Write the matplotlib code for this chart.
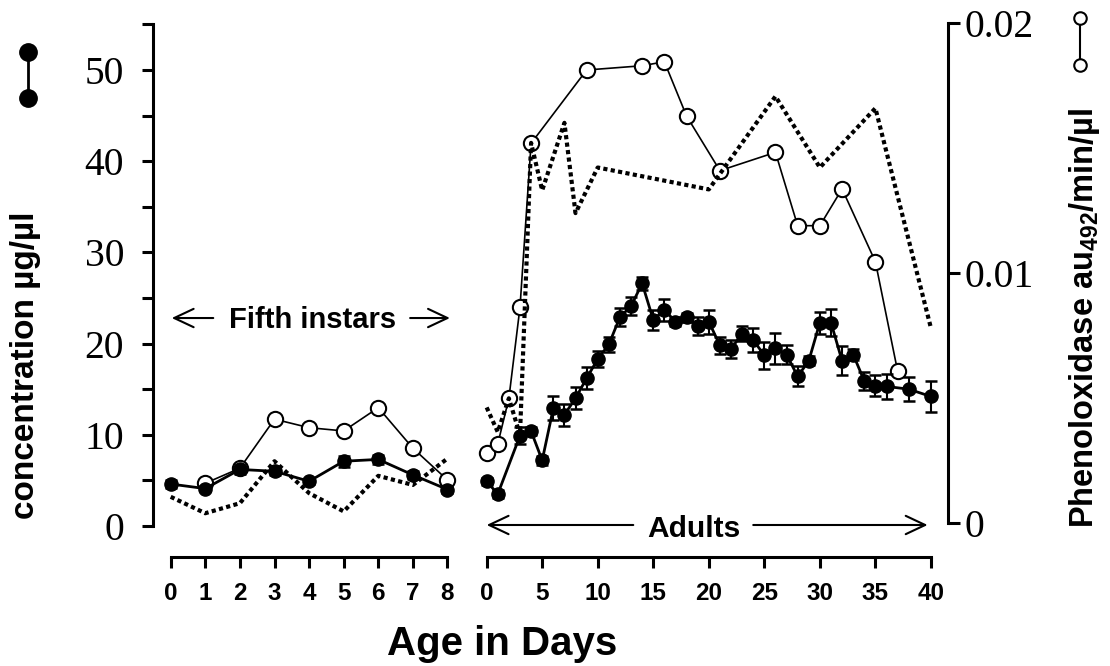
import matplotlib
matplotlib.use("Agg")
import matplotlib.pyplot as plt
from matplotlib.lines import Line2D

plt.rcParams["font.family"] = ["Liberation Sans", "DejaVu Sans"]
plt.rcParams["mathtext.fontset"] = "custom"
plt.rcParams["mathtext.bf"] = "Liberation Sans:bold"
plt.rcParams["mathtext.rm"] = "Liberation Sans:bold"

# fifth instars, days 0-8
larva_days = [0, 1, 2, 3, 4, 5, 6, 7, 8]
larva_conc = [4.6, 4.1, 6.2, 6.0, 4.9, 7.1, 7.3, 5.6, 4.0]
larva_conc_err = [0.4, 0.3, 0.5, 0.4, 0.3, 0.6, 0.5, 0.4, 0.4]
larva_po_days = [1, 2, 3, 4, 5, 6, 7, 8]
larva_po = [0.00160, 0.00220, 0.00416, 0.00382, 0.00369, 0.00462, 0.00300, 0.00173]
larva_dot = [3.2, 1.4, 2.5, 7.1, 3.6, 1.6, 5.5, 4.5, 7.4]

# adults, days 0-40
adult_days = [0, 1, 3, 4, 5, 6, 7, 8, 9, 10, 11, 12, 13, 14, 15, 16, 17, 18, 19, 20,
              21, 22, 23, 24, 25, 26, 27, 28, 29, 30, 31, 32, 33, 34, 35, 36, 38, 40]
adult_conc = [4.9, 3.5, 9.9, 10.4, 7.2, 12.9, 12.2, 14.0, 16.2, 18.3, 19.9, 22.9, 24.1, 26.6,
              22.6, 23.7, 22.4, 22.9, 21.9, 22.4, 19.8, 19.4, 21.1, 20.4, 18.7, 19.5, 18.8,
              16.4, 18.1, 22.3, 22.3, 18.1, 18.8, 15.9, 15.4, 15.3, 15.0, 14.2]
adult_conc_err = [0.4, 0.4, 0.9, 0.4, 0.5, 1.3, 1.2, 1.2, 1.2, 0.9, 0.8, 1.0, 1.0, 0.7,
                  1.1, 1.2, 0.5, 0.5, 1.0, 1.3, 0.9, 1.0, 0.8, 1.3, 1.5, 1.7, 1.0,
                  1.1, 0.5, 1.2, 1.5, 1.6, 0.6, 1.0, 1.2, 1.4, 1.3, 1.7]
adult_po_days = [0, 1, 2, 3, 4, 9, 14, 16, 18, 21, 26, 28, 30, 32, 35, 37]
adult_po = [0.00280, 0.00317, 0.00499, 0.00863, 0.01518, 0.01811, 0.01828, 0.01844,
            0.01627, 0.01409, 0.01482, 0.01189, 0.01189, 0.01336, 0.01045, 0.00608]
adult_dot_days = [0, 1, 2, 3, 4, 5, 7, 8, 10, 20, 26, 30, 35, 40]
adult_dot = [13.0, 10.3, 14.0, 10.0, 42.0, 36.8, 44.2, 34.3, 39.3, 36.9, 47.1, 39.3, 45.8, 21.7]

W, H = 1110, 666
fig = plt.figure(figsize=(W / 100, H / 100), dpi=100)


def box(x0, x1, ybot, ytop):
    return [x0 / W, 1 - ybot / H, (x1 - x0) / W, (ybot - ytop) / H]


ax1r = fig.add_axes(box(153.4, 464.8, 523.3, 22.7))
ax2r = fig.add_axes(box(470, 947.6, 523.3, 22.7))
ax1 = fig.add_axes(box(153.4, 464.8, 526, 24.3))
ax2 = fig.add_axes(box(470, 947.6, 526, 24.3))

for ax in (ax1, ax2, ax1r, ax2r):
    ax.patch.set_visible(False)
    for s in ax.spines.values():
        s.set_visible(False)
        s.set_linewidth(2.2)

ax1.set_xlim(-0.5, 8.5)
ax1r.set_xlim(-0.5, 8.5)
ax2.set_xlim(-1.5, 41.5)
ax2r.set_xlim(-1.5, 41.5)
for ax in (ax1, ax2):
    ax.set_ylim(0, 55)
for ax in (ax1r, ax2r):
    ax.set_ylim(0, 0.02)
    ax.xaxis.set_visible(False)

# phenoloxidase (open circles, right scale)
po_style = dict(color="black", lw=1.2, marker="o", ms=11, mfc="white", mew=1.5, clip_on=False)
ax1r.plot(larva_po_days, larva_po, **po_style)
ax2r.plot(adult_po_days, adult_po, **po_style)
ax1r.yaxis.set_visible(False)

# dotted series
dot_style = dict(color="black", lw=3, ls=(0, (1, 0.8)), clip_on=False)
ax1.plot(larva_days, larva_dot, **dot_style)
ax2.plot(adult_dot_days, adult_dot, **dot_style)

# concentration (filled circles with error bars)
err_style = dict(fmt="-o", color="black", lw=2, ms=9.5, capsize=4.3, capthick=1.8,
                 elinewidth=1.5, clip_on=False)
ax1.errorbar(larva_days, larva_conc, yerr=larva_conc_err, **err_style)
ax2.errorbar(adult_days, adult_conc, yerr=adult_conc_err, **err_style)

# axes styling
ax1.spines["left"].set_visible(True)
ax1.spines["left"].set_bounds(0, 55)
ax1.set_yticks([0, 10, 20, 30, 40, 50], labels=["0", "10", "20", "30", "40", "50"],
               fontfamily="Liberation Serif", fontsize=28.5)
ax1.set_yticks([5, 15, 25, 35, 45, 55], minor=True)
ax1.tick_params(axis="y", which="both", direction="out", length=8, width=2.2, pad=13)

for ax, bounds, ticks in ((ax1, (0, 8), list(range(0, 9))),
                          (ax2, (0, 40), list(range(0, 41, 5)))):
    sp = ax.spines["bottom"]
    sp.set_visible(True)
    sp.set_position(("outward", 22))
    sp.set_bounds(*bounds)
    ax.set_xticks(ticks, labels=[str(t) for t in ticks], fontweight="bold", fontsize=17.5)
    ax.tick_params(axis="x", direction="out", length=8, width=2.2, pad=10.5)

ax2.yaxis.set_visible(False)

ax2r.spines["right"].set_visible(True)
ax2r.spines["right"].set_bounds(0, 0.02)
ax2r.yaxis.tick_right()
ax2r.set_yticks([0, 0.01, 0.02], labels=["0", "0.01", "0.02"],
                fontfamily="Liberation Serif", fontsize=28.5)
ax2r.tick_params(axis="y", direction="out", length=8.5, width=2.2, pad=4)

# stage annotations
arrow = dict(arrowstyle="->,head_length=0.7,head_width=0.33", lw=1.5, color="black",
             mutation_scale=20, shrinkA=0, shrinkB=0)
ax1.annotate("", xy=(0.03, 22.8), xytext=(1.23, 22.8), arrowprops=arrow, annotation_clip=False)
ax1.annotate("", xy=(8.07, 22.8), xytext=(6.92, 22.8), arrowprops=arrow, annotation_clip=False)
ax1.text(4.09, 21.7, "Fifth instars", ha="center", va="baseline", fontsize=21, fontweight="bold")

ax2.annotate("", xy=(0.0, 0.11), xytext=(13.2, 0.11), arrowprops=arrow, annotation_clip=False)
ax2.annotate("", xy=(39.7, 0.11), xytext=(24.0, 0.11), arrowprops=arrow, annotation_clip=False)
ax2.text(18.66, -1.24, "Adults", ha="center", va="baseline", fontsize=21.5, fontweight="bold")

# labels
fig.text(502.3 / W, 11 / H, "Age in Days", ha="center", va="baseline", fontsize=29, fontweight="bold")
fig.text(26 / W, 1 - 365.5 / H, "concentration µg/µl", rotation=90, ha="center", va="center",
         fontsize=24, fontweight="bold")
fig.text(1085 / W, 1 - 318 / H, r"Phenoloxidase au$_{\mathbf{492}}$/min/µl", rotation=90,
         ha="center", va="center", fontsize=23.5, fontweight="bold")

# axis key symbols
fig.add_artist(Line2D([28 / W, 28 / W], [1 - 51.7 / H, 1 - 97.7 / H], transform=fig.transFigure,
                      color="black", lw=2, marker="o", ms=12.5))
fig.add_artist(Line2D([1080 / W, 1080 / W], [1 - 18 / H, 1 - 65 / H], transform=fig.transFigure,
                      color="black", lw=1.5, marker="o", ms=9, mfc="white", mew=1.5))

fig.savefig("out.png", dpi=100)
